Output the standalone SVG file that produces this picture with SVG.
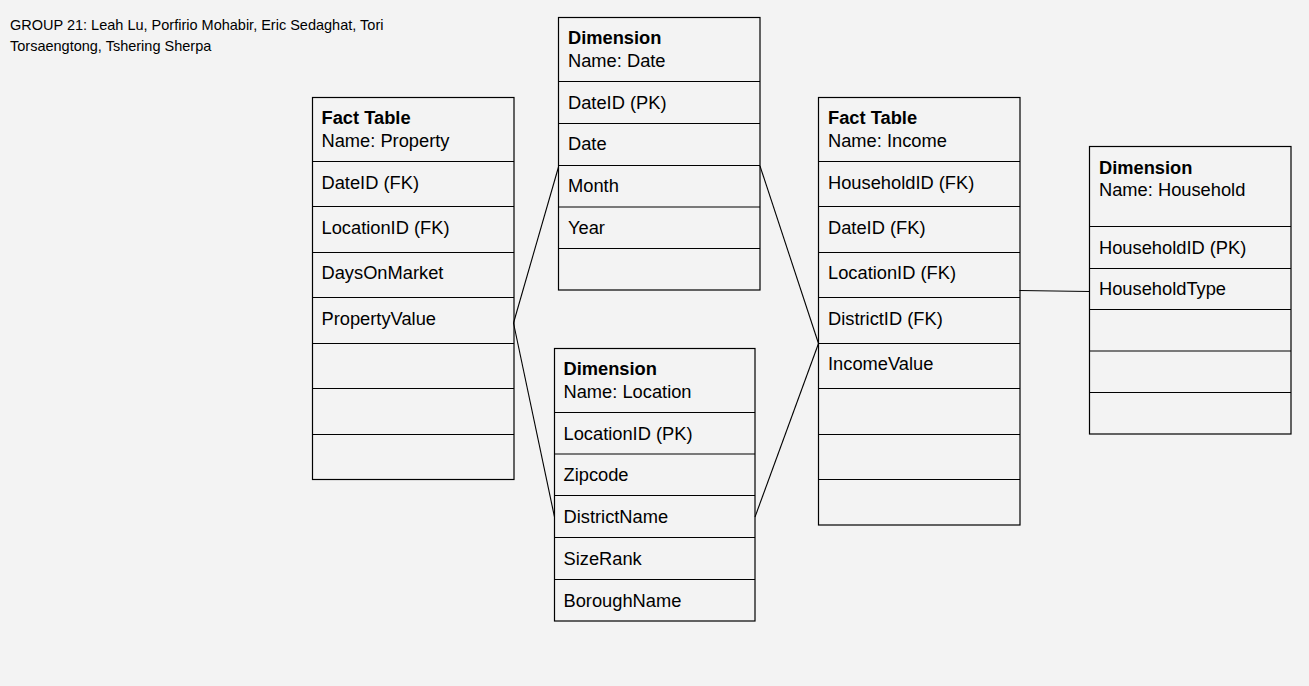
<svg xmlns="http://www.w3.org/2000/svg" width="1309" height="686" viewBox="0 0 1309 686">
<style>
.bg{fill:#f3f3f3}
.tb{fill:none;stroke:#000;stroke-width:1.2}
.rl{stroke:#000;stroke-width:1.2}
.t{font-family:"Liberation Sans",Arial,sans-serif;font-size:18.3px;fill:#000}
.b{font-weight:bold}
.title{font-family:"Liberation Sans",Arial,sans-serif;font-size:14.5px;fill:#000}
.cn{fill:none;stroke:#000;stroke-width:1.1}
</style>
<rect class="bg" x="0" y="0" width="1309" height="686"/>
<g id="title">
<text class="title" x="10" y="30">GROUP 21: Leah Lu, Porfirio Mohabir, Eric Sedaghat, Tori</text>
<text class="title" x="10" y="51">Torsaengtong, Tshering Sherpa</text>
</g>
<g id="connectors">
<line class="cn" x1="513.5" y1="323" x2="558.5" y2="167"/>
<line class="cn" x1="513.5" y1="323" x2="554.5" y2="517"/>
<line class="cn" x1="760" y1="166" x2="818.5" y2="343.5"/>
<line class="cn" x1="755" y1="517" x2="818.5" y2="343.5"/>
<line class="cn" x1="1019.5" y1="290.5" x2="1089.5" y2="291.5"/>
</g>
<g id="property">
<rect class="tb" x="312.5" y="97.5" width="201.5" height="382"/>
<line class="rl" x1="312.5" y1="161.5" x2="514" y2="161.5"/>
<line class="rl" x1="312.5" y1="206.5" x2="514" y2="206.5"/>
<line class="rl" x1="312.5" y1="252.5" x2="514" y2="252.5"/>
<line class="rl" x1="312.5" y1="297.5" x2="514" y2="297.5"/>
<line class="rl" x1="312.5" y1="343.5" x2="514" y2="343.5"/>
<line class="rl" x1="312.5" y1="388.5" x2="514" y2="388.5"/>
<line class="rl" x1="312.5" y1="434.5" x2="514" y2="434.5"/>
<text class="t b" x="321.5" y="124">Fact Table</text>
<text class="t" x="321.5" y="147">Name: Property</text>
<text class="t" x="321.5" y="188.5">DateID (FK)</text>
<text class="t" x="321.5" y="233.5">LocationID (FK)</text>
<text class="t" x="321.5" y="279">DaysOnMarket</text>
<text class="t" x="321.5" y="324.5">PropertyValue</text>
</g>
<g id="date">
<rect class="tb" x="558.5" y="17.5" width="201.5" height="272.5"/>
<line class="rl" x1="558.5" y1="81.5" x2="760" y2="81.5"/>
<line class="rl" x1="558.5" y1="123.5" x2="760" y2="123.5"/>
<line class="rl" x1="558.5" y1="165.5" x2="760" y2="165.5"/>
<line class="rl" x1="558.5" y1="207" x2="760" y2="207"/>
<line class="rl" x1="558.5" y1="248.5" x2="760" y2="248.5"/>
<text class="t b" x="568" y="44">Dimension</text>
<text class="t" x="568" y="66.5">Name: Date</text>
<text class="t" x="568" y="108.5">DateID (PK)</text>
<text class="t" x="568" y="150">Date</text>
<text class="t" x="568" y="192">Month</text>
<text class="t" x="568" y="233.5">Year</text>
</g>
<g id="location">
<rect class="tb" x="554.5" y="348.5" width="200.5" height="272.5"/>
<line class="rl" x1="554.5" y1="412.5" x2="755" y2="412.5"/>
<line class="rl" x1="554.5" y1="454" x2="755" y2="454"/>
<line class="rl" x1="554.5" y1="495.5" x2="755" y2="495.5"/>
<line class="rl" x1="554.5" y1="537.5" x2="755" y2="537.5"/>
<line class="rl" x1="554.5" y1="579.5" x2="755" y2="579.5"/>
<text class="t b" x="563.5" y="375">Dimension</text>
<text class="t" x="563.5" y="397.5">Name: Location</text>
<text class="t" x="563.5" y="439.5">LocationID (PK)</text>
<text class="t" x="563.5" y="481">Zipcode</text>
<text class="t" x="563.5" y="522.5">DistrictName</text>
<text class="t" x="563.5" y="564.5">SizeRank</text>
<text class="t" x="563.5" y="606.5">BoroughName</text>
</g>
<g id="income">
<rect class="tb" x="818.5" y="97.5" width="201.5" height="427.5"/>
<line class="rl" x1="818.5" y1="161.5" x2="1020" y2="161.5"/>
<line class="rl" x1="818.5" y1="206.5" x2="1020" y2="206.5"/>
<line class="rl" x1="818.5" y1="252.5" x2="1020" y2="252.5"/>
<line class="rl" x1="818.5" y1="297.5" x2="1020" y2="297.5"/>
<line class="rl" x1="818.5" y1="343.5" x2="1020" y2="343.5"/>
<line class="rl" x1="818.5" y1="388.5" x2="1020" y2="388.5"/>
<line class="rl" x1="818.5" y1="434.5" x2="1020" y2="434.5"/>
<line class="rl" x1="818.5" y1="479.5" x2="1020" y2="479.5"/>
<text class="t b" x="828" y="124">Fact Table</text>
<text class="t" x="828" y="147">Name: Income</text>
<text class="t" x="828" y="188.5">HouseholdID (FK)</text>
<text class="t" x="828" y="233.5">DateID (FK)</text>
<text class="t" x="828" y="279">LocationID (FK)</text>
<text class="t" x="828" y="324.5">DistrictID (FK)</text>
<text class="t" x="828" y="370">IncomeValue</text>
</g>
<g id="household">
<rect class="tb" x="1089.5" y="146.5" width="201.5" height="287.5"/>
<line class="rl" x1="1089.5" y1="226.5" x2="1291" y2="226.5"/>
<line class="rl" x1="1089.5" y1="268.5" x2="1291" y2="268.5"/>
<line class="rl" x1="1089.5" y1="309.5" x2="1291" y2="309.5"/>
<line class="rl" x1="1089.5" y1="351" x2="1291" y2="351"/>
<line class="rl" x1="1089.5" y1="392.5" x2="1291" y2="392.5"/>
<text class="t b" x="1099" y="173.5">Dimension</text>
<text class="t" x="1099" y="196">Name: Household</text>
<text class="t" x="1099" y="253.5">HouseholdID (PK)</text>
<text class="t" x="1099" y="295">HouseholdType</text>
</g>
</svg>
